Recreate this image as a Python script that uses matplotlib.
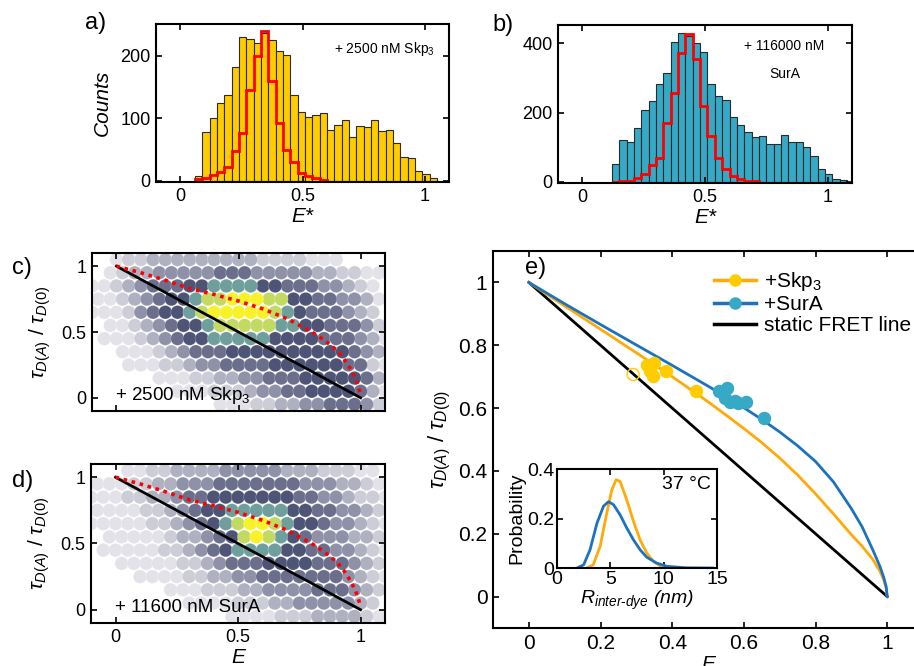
import numpy as np
import matplotlib
matplotlib.use("Agg")
import matplotlib.pyplot as plt
from matplotlib.colors import ListedColormap
from matplotlib.lines import Line2D

plt.rcParams['font.family'] = ['Liberation Sans', 'DejaVu Sans']
plt.rcParams['mathtext.fontset'] = 'custom'
plt.rcParams['mathtext.rm'] = 'Liberation Sans'
plt.rcParams['mathtext.it'] = 'Liberation Sans:italic'
plt.rcParams['axes.linewidth'] = 1.5

# --- histogram data (bin width 0.03) ---
bin_w = 0.03
skp_start = 0.06
skp_counts = [7, 78, 100, 125, 137, 183, 230, 227, 221, 236, 226, 208, 201, 138, 110,
              102, 105, 109, 82, 90, 98, 70, 87, 86, 98, 79, 82, 60, 38, 37, 15, 11, 4]
skp_ref = [3, 5, 10, 14, 22, 47, 77, 146, 200, 240, 160, 92, 50, 30, 12, 7, 4, 2]

sura_start = 0.12
sura_counts = [53, 122, 116, 156, 207, 234, 284, 315, 405, 431, 420, 400, 376, 282, 248,
               238, 188, 164, 145, 130, 132, 111, 111, 135, 116, 116, 101, 75, 37, 24, 10, 5]
sura_ref = [0, 2, 4, 12, 22, 48, 70, 170, 258, 372, 426, 356, 218, 132, 70, 38, 18, 8, 4, 2]

# --- density clouds (levels 0-9), rows tau 1.05 .. -0.05, cols E -0.1 .. 1.1 ---
cloud_E = [-0.1, -0.05, 0, 0.05, 0.1, 0.15, 0.2, 0.25, 0.3, 0.35, 0.4, 0.45, 0.5,
           0.55, 0.6, 0.65, 0.7, 0.75, 0.8, 0.85, 0.9, 0.95, 1.0, 1.05, 1.1]
cloud_tau = [1.05, 0.95, 0.85, 0.75, 0.65, 0.55, 0.45, 0.35, 0.25, 0.15, 0.05, -0.05]
cloud_skp = [
    "0012233333333322221110000",
    "0123344444555444443322110",
    "1123455566777766555443210",
    "1123456678899988665544310",
    "1112456678999998765554320",
    "0112345667888887766555420",
    "0111234566777776666555431",
    "0011123455566666666665431",
    "0001112234455556666665521",
    "0000011122334455566666531",
    "0000000111222344556666531",
    "0000000000111223344555420",
]
cloud_sura = [
    "0001122333344444333222110",
    "1112233444555555544433211",
    "1112233455666666655443221",
    "1111223456677777665544321",
    "1111122345678998766544321",
    "0111112334568987654443321",
    "0111112234567777665544321",
    "0011111223455566665554321",
    "0000111122334455555554321",
    "0000001112223344445554321",
    "0000000011112223344444320",
    "0000000000011112223333210",
]
cloud_colors = ['#e2e2e8', '#cccdd6', '#afb1c1', '#8e91a8', '#6b6f8c', '#4e5475',
                '#6f9f9c', '#c3da62', '#f8f22a']

# dynamic FRET line (red dotted in c, d)
dyn_E = [0, 0.1, 0.2, 0.3, 0.4, 0.5, 0.6, 0.7, 0.8, 0.85, 0.9, 0.93, 0.96, 0.98, 0.99, 1.0]
dyn_tau = [1.0, 0.95, 0.893, 0.83, 0.785, 0.735, 0.675, 0.6, 0.5, 0.44, 0.365, 0.3,
           0.215, 0.14, 0.09, 0.02]
static_E = [0, 1]
static_tau = [1, 0]

# --- panel e ---
skp_line_E = [0, 0.1, 0.2, 0.3, 0.4, 0.5, 0.55, 0.6, 0.65, 0.7, 0.75, 0.8, 0.85, 0.9,
              0.93, 0.96, 0.98, 0.99, 0.997, 1.0]
skp_line_tau = [1, 0.925, 0.851, 0.776, 0.7, 0.62, 0.578, 0.535, 0.49, 0.441, 0.387,
                0.327, 0.263, 0.197, 0.16, 0.118, 0.08, 0.054, 0.028, 0.0]
sura_line_E = [0, 0.1, 0.2, 0.3, 0.4, 0.5, 0.55, 0.6, 0.65, 0.7, 0.75, 0.8, 0.85, 0.9,
               0.93, 0.96, 0.98, 0.99, 0.997, 1.0]
sura_line_tau = [1, 0.932, 0.866, 0.801, 0.736, 0.67, 0.636, 0.601, 0.564, 0.524, 0.48,
                 0.43, 0.365, 0.28, 0.222, 0.148, 0.095, 0.062, 0.032, 0.0]
skp_pts_E = [0.329, 0.349, 0.347, 0.338, 0.382, 0.466]
skp_pts_tau = [0.737, 0.743, 0.701, 0.717, 0.717, 0.653]
skp_open_E = [0.291]
skp_open_tau = [0.707]
sura_pts_E = [0.532, 0.554, 0.548, 0.561, 0.575, 0.585, 0.605, 0.657]
sura_pts_tau = [0.654, 0.665, 0.633, 0.619, 0.622, 0.615, 0.619, 0.567]

# inset distance distributions
r_skp = [2.8, 3.4, 4.05, 4.67, 5.14, 5.55, 5.92, 6.54, 7.17, 7.79, 8.41, 9.03, 9.66, 10.3]
p_skp = [0, 0.013, 0.088, 0.222, 0.316, 0.357, 0.35, 0.276, 0.189, 0.114, 0.061, 0.027,
         0.009, 0.001]
r_sura = [1.87, 2.5, 3.1, 3.74, 4.36, 4.83, 5.3, 5.92, 6.54, 7.17, 7.79, 8.41, 9.35,
          10.3, 12.1, 14.6]
p_sura = [0, 0.013, 0.074, 0.18, 0.25, 0.268, 0.256, 0.215, 0.162, 0.114, 0.074, 0.044,
          0.02, 0.007, 0.001, 0.0]

c_yellow = '#FFCC00'
c_teal = '#36A9C6'
c_orange = '#FFA90A'
c_blue = '#1C72BE'
tick_fs = 13


def style(ax, fs=tick_fs):
    ax.tick_params(direction='in', top=True, right=True, length=4, width=1.2,
                   labelsize=fs, pad=4)


def draw_hist(ax, start, counts, ref, color):
    edges = start + bin_w * np.arange(len(counts) + 1)
    ax.bar(edges[:-1], counts, width=bin_w, align='edge', color=color,
           edgecolor='#2a2a2a', linewidth=0.8)
    ref_edges = start + bin_w * np.arange(len(ref) + 1)
    ax.stairs(ref, ref_edges, color='red', linewidth=2, baseline=0)
    ax.set_xlim(-0.1, 1.1)
    ax.set_xticks([0, 0.5, 1])
    ax.set_xticklabels(['0', '0.5', '1'])
    ax.set_xlabel('E*', fontstyle='italic', fontsize=15, labelpad=2)
    style(ax)


def draw_cloud(ax, rows):
    xs, ys, lv = [], [], []
    for i, row in enumerate(rows):
        shift = 0.025 if i % 2 else 0.0
        for j, ch in enumerate(row):
            if ch != '0':
                xs.append(cloud_E[j] + shift)
                ys.append(cloud_tau[i])
                lv.append(int(ch))
    xs, ys, lv = np.array(xs), np.array(ys), np.array(lv)
    order = np.argsort(lv, kind='stable')
    ax.scatter(xs[order], ys[order], c=lv[order], cmap=ListedColormap(cloud_colors),
               vmin=0.5, vmax=9.5, s=95, edgecolors=(1, 1, 1, 0.3), linewidths=0.5,
               zorder=1)
    ax.plot(static_E, static_tau, color='black', lw=2, zorder=3)
    ax.plot(dyn_E, dyn_tau, color='red', lw=2.6, ls=(0, (1, 1.3)), zorder=4)
    ax.set_xlim(-0.1, 1.1)
    ax.set_ylim(-0.1, 1.1)
    ax.set_xticks([0, 0.5, 1])
    ax.set_yticks([0, 0.5, 1])
    ax.set_yticklabels(['0', '0.5', '1'])
    ax.set_ylabel(r'$\tau_{D(A)}\ /\ \tau_{D(0)}$', fontsize=15, labelpad=6)
    style(ax)


fig = plt.figure(figsize=(9.14, 6.66), dpi=100)

# a)
ax_a = fig.add_axes([0.1707, 0.7267, 0.3206, 0.2372])
draw_hist(ax_a, skp_start, skp_counts, skp_ref, c_yellow)
ax_a.set_ylim(-2, 251)
ax_a.set_yticks([0, 100, 200])
ax_a.set_ylabel('Counts', fontstyle='italic', fontsize=15, labelpad=6)
ax_a.text(0.95, 0.84, r'+ 2500 nM Skp$_3$', transform=ax_a.transAxes, ha='right',
          va='center', fontsize=10)

# b)
ax_b = fig.add_axes([0.6105, 0.7252, 0.3217, 0.2372])
draw_hist(ax_b, sura_start, sura_counts, sura_ref, c_teal)
ax_b.set_ylim(-3, 453)
ax_b.set_yticks([0, 200, 400])
ax_b.text(0.77, 0.87, '+ 116000 nM', transform=ax_b.transAxes, ha='center',
          va='center', fontsize=10)
ax_b.text(0.77, 0.69, 'SurA', transform=ax_b.transAxes, ha='center', va='center',
          fontsize=10)

# c)
ax_c = fig.add_axes([0.1007, 0.3829, 0.3206, 0.2372])
draw_cloud(ax_c, cloud_skp)
ax_c.set_xticklabels([])
ax_c.text(0.08, 0.1, r'+ 2500 nM Skp$_3$', transform=ax_c.transAxes, ha='left',
          va='center', fontsize=13.5, zorder=5)

# d)
ax_d = fig.add_axes([0.0996, 0.0646, 0.3217, 0.2387])
draw_cloud(ax_d, cloud_sura)
ax_d.set_xticklabels(['0', '0.5', '1'])
ax_d.set_xlabel('E', fontstyle='italic', fontsize=15, labelpad=2)
ax_d.text(0.08, 0.1, '+ 11600 nM SurA', transform=ax_d.transAxes, ha='left',
          va='center', fontsize=13.5, zorder=5)

# e)
ax_e = fig.add_axes([0.5394, 0.0571, 0.4705, 0.566])
ax_e.plot(static_E, static_tau, color='black', lw=2)
ax_e.plot(skp_line_E, skp_line_tau, color=c_orange, lw=2)
ax_e.plot(sura_line_E, sura_line_tau, color=c_blue, lw=2)
ax_e.scatter(skp_pts_E, skp_pts_tau, s=75, color=c_yellow, zorder=4)
ax_e.scatter(skp_open_E, skp_open_tau, s=75, facecolors='none', edgecolors=c_yellow,
             linewidths=1, zorder=4)
ax_e.scatter(sura_pts_E, sura_pts_tau, s=75, color=c_teal, zorder=4)
ax_e.set_xlim(-0.1, 1.1)
ax_e.set_ylim(-0.1, 1.1)
ax_e.set_xticks([0, 0.2, 0.4, 0.6, 0.8, 1])
ax_e.set_xticklabels(['0', '0.2', '0.4', '0.6', '0.8', '1'])
ax_e.set_yticks([0, 0.2, 0.4, 0.6, 0.8, 1])
ax_e.set_yticklabels(['0', '0.2', '0.4', '0.6', '0.8', '1'])
ax_e.set_xlabel('E', fontstyle='italic', fontsize=15, labelpad=2)
ax_e.set_ylabel(r'$\tau_{D(A)}\ /\ \tau_{D(0)}$', fontsize=16, labelpad=4)
style(ax_e, 15)
handles = [
    Line2D([], [], color=c_orange, lw=2.5, marker='o', markersize=8,
           markerfacecolor=c_yellow, markeredgecolor=c_yellow),
    Line2D([], [], color=c_blue, lw=2.5, marker='o', markersize=8,
           markerfacecolor=c_teal, markeredgecolor=c_teal),
    Line2D([], [], color='black', lw=2.5),
]
ax_e.legend(handles, [r'+Skp$_3$', '+SurA', 'static FRET line'], loc='upper left',
            bbox_to_anchor=(0.505, 0.96), frameon=False, fontsize=15,
            handlelength=2.0, handletextpad=0.4, labelspacing=0.1, borderaxespad=0,
            borderpad=0.2)

# inset
ax_i = fig.add_axes([0.6094, 0.1471, 0.175, 0.1486])
ax_i.plot(r_skp, p_skp, color=c_orange, lw=2)
ax_i.plot(r_sura, p_sura, color=c_blue, lw=2)
ax_i.set_xlim(0, 15)
ax_i.set_ylim(0, 0.4)
ax_i.set_xticks([0, 5, 10, 15])
ax_i.set_yticks([0, 0.2, 0.4])
ax_i.set_yticklabels(['0', '0.2', '0.4'])
ax_i.set_ylabel('Probability', fontsize=14, labelpad=1)
ax_i.set_xlabel('$R_{inter‐dye}$ (nm)', fontstyle='italic', fontsize=14, labelpad=1)
ax_i.text(0.96, 0.84, '37 °C', transform=ax_i.transAxes, ha='right', va='center',
          fontsize=14)
style(ax_i, 14)
ax_i.tick_params(pad=2)

# panel labels
for lab, x, y in [('a)', 0.093, 0.965), ('b)', 0.539, 0.962), ('c)', 0.013, 0.597),
                  ('d)', 0.013, 0.278), ('e)', 0.574, 0.597)]:
    fig.text(x, y, lab, fontsize=17, ha='left', va='center')

fig.savefig('out.png', dpi=100)
